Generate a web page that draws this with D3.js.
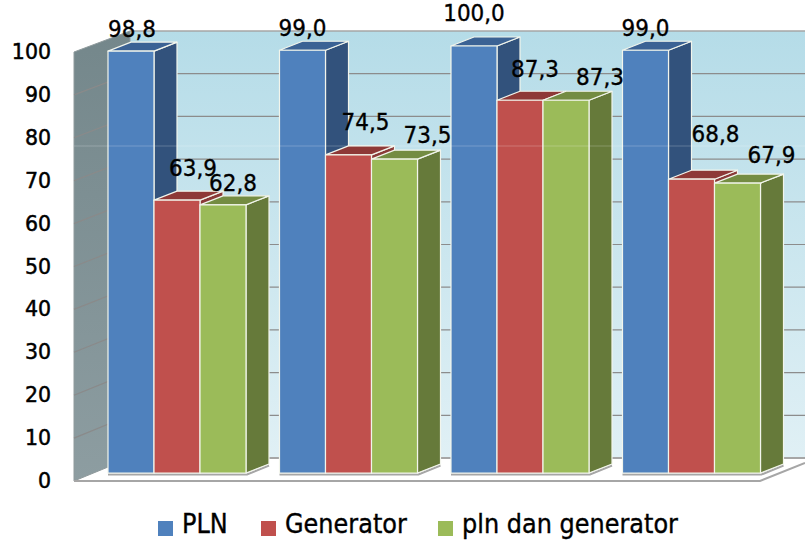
<!DOCTYPE html>
<html>
  <head>
    <meta charset="utf-8" />
    <title>PLN / Generator</title>
    <script src="https://d3js.org/d3.v7.min.js"></script>
    <style>
      html, body { margin: 0; padding: 0; background: #fff; overflow: hidden; }
      svg { display: block; }
      text { font-family: "DejaVu Sans", sans-serif; fill: #000; stroke: #000; stroke-width: 0.35; }
    </style>
  </head>
  <body>
    <div id="chart-container"></div>
    <script>
      const groups = ["A", "B", "C", "D"];
      const seriesNames = ["PLN", "Generator", "pln dan generator"];
      const plnValues = [98.8, 99.0, 100.0, 99.0];
      const generatorValues = [63.9, 74.5, 87.3, 68.8];
      const bothValues = [62.8, 73.5, 87.3, 67.9];
      const yTicks = [0, 10, 20, 30, 40, 50, 60, 70, 80, 90, 100];

      const width = 805;
      const height = 540;

      //colors per series: front, side, top
      const faceColors = ["#4f81bd", "#c0504d", "#9bbb59"];
      const sideColors = ["#32527c", "#8a3a38", "#667a3a"];
      const topColors = ["#3b6294", "#8e3937", "#748c42"];

      //label nudges, same order as the series: [dx, dy from bar top]
      const labelNudge = [
        [[1, -14], [16, -24], [10, -14]],
        [[0, -14], [17, -25], [33, -16]],
        [[0, -25], [15, -23], [34, -15]],
        [[0, -14], [24, -37], [34, -20]],
      ];

      const svg = d3.select("#chart-container").append("svg").attr("width", width).attr("height", height);
      const defs = svg.append("defs");

      function vGrad(id, c1, c2) {
        const g = defs.append("linearGradient").attr("id", id).attr("x1", 0).attr("y1", 0).attr("x2", 0).attr("y2", 1);
        g.append("stop").attr("offset", "0%").attr("stop-color", c1);
        g.append("stop").attr("offset", "100%").attr("stop-color", c2);
      }
      vGrad("backGrad", "#b5dce8", "#e0f0f5");
      vGrad("wallGrad", "#74878b", "#8d9da1");

      //three y scales: front edge of the box, the plane of the bars, the back wall
      const yFront = d3.scaleLinear().domain([0, 100]).range([481, 52]);
      const yBar = d3.scaleLinear().domain([0, 100]).range([473, 46]);
      const yBack = d3.scaleLinear().domain([0, 100]).range([458, 31]);

      const x0 = d3.scaleBand().domain(groups).range([74, 760]);
      const x1 = d3.scaleBand().domain(seriesNames).range([0, 138]);

      const barShift = 34; //front edge of box to front of bars
      const wallDx = 56; //front edge of box to back wall
      const depthX = 23; //bar depth
      const depthY = 9;

      const poly = (pts) => pts.map((p) => p.join(",")).join(" ");

      //back wall
      svg.append("rect")
        .attr("x", 130).attr("y", yBack(100))
        .attr("width", width - 130).attr("height", yBack(0) - yBack(100))
        .attr("fill", "url(#backGrad)");
      svg.append("line")
        .attr("x1", 130).attr("x2", width).attr("y1", yBack(100)).attr("y2", yBack(100))
        .attr("stroke", "#a6a6a6").attr("stroke-width", 1.5);

      svg.append("g").selectAll("line").data(yTicks.slice(0, -1)).join("line")
        .attr("x1", 130).attr("x2", width)
        .attr("y1", (d) => yBack(d)).attr("y2", (d) => yBack(d))
        .attr("stroke", (d) => (d === 0 ? "#a6a6a6" : "#8c8c8c"))
        .attr("stroke-width", (d) => (d === 0 ? 2 : 1.2));

      //left wall
      svg.append("polygon")
        .attr("points", poly([[74, yFront(100)], [74 + wallDx, yBack(100)], [74 + wallDx, yBack(0)], [74, yFront(0)]]))
        .attr("fill", "url(#wallGrad)")
        .attr("stroke", "#8f9a9c").attr("stroke-width", 1);
      svg.append("g").selectAll("line").data(yTicks.slice(1, -1)).join("line")
        .attr("x1", 74).attr("x2", 74 + wallDx)
        .attr("y1", (d) => yFront(d)).attr("y2", (d) => yBack(d))
        .attr("stroke", "#8a8a8a").attr("stroke-width", 1.2);

      //floor edges
      svg.append("polyline")
        .attr("points", poly([[74, 481], [760, 481], [width, 463]]))
        .attr("fill", "none").attr("stroke", "#a6a6a6").attr("stroke-width", 2);

      const seriesValues = [plnValues, generatorValues, bothValues];

      groups.forEach((g, gi) => {
        const gx = x0(g) + barShift;
        const bw = x1.bandwidth();
        const base = yBar(0);

        //shadow line under the group
        svg.append("polyline")
          .attr("points", poly([[gx, base + 1.5], [gx + 3 * bw + 1, base + 1.5], [gx + 3 * bw + depthX, base - depthY + 1.5]]))
          .attr("fill", "none").attr("stroke", "#a6a6a6").attr("stroke-width", 2);

        seriesNames.forEach((name, si) => {
          const v = seriesValues[si][gi];
          const x = gx + x1(name);
          const top = yBar(v);

          const bar = svg.append("g").attr("stroke", "#f2f5ec").attr("stroke-width", 1.2).attr("stroke-linejoin", "round");
          bar.append("polygon")
            .attr("points", poly([[x + bw, top], [x + bw + depthX, top - depthY], [x + bw + depthX, base - depthY], [x + bw, base]]))
            .attr("fill", sideColors[si]);
          bar.append("polygon")
            .attr("points", poly([[x, top], [x + depthX, top - depthY], [x + bw + depthX, top - depthY], [x + bw, top]]))
            .attr("fill", topColors[si]);
          bar.append("rect")
            .attr("x", x).attr("y", top)
            .attr("width", bw).attr("height", base - top)
            .attr("fill", faceColors[si]);
        });
      });

      //faint band across the picture
      svg.append("line")
        .attr("x1", 74).attr("x2", width).attr("y1", 146).attr("y2", 146)
        .attr("stroke", "#fff").attr("stroke-opacity", 0.22).attr("stroke-width", 1);

      //value labels, decimal comma
      const fmt = (v) => v.toFixed(1).replace(".", ",");
      groups.forEach((g, gi) => {
        seriesNames.forEach((name, si) => {
          const v = seriesValues[si][gi];
          const [dx, dy] = labelNudge[gi][si];
          svg.append("text")
            .attr("transform", `translate(${x0(g) + barShift + x1(name) + x1.bandwidth() / 2 + dx},${yBar(v) + dy}) scale(1,1.08)`)
            .attr("text-anchor", "middle")
            .attr("font-size", "21.5px")
            .text(fmt(v));
        });
      });

      //y axis
      const yAxis = d3.axisLeft(yFront).tickValues(yTicks).tickSize(0).tickPadding(23);
      const axisG = svg.append("g").attr("transform", "translate(74,0)").call(yAxis);
      axisG.select(".domain").remove();
      axisG.selectAll("text")
        .attr("font-size", "20.5px")
        .attr("font-family", '"DejaVu Sans", sans-serif')
        .style("fill", "#000").style("stroke", "#000").style("stroke-width", 0.5);

      //legend, text lifted a little so the descenders stay on the page
      const legendX = [158, 261, 438];
      const legend = svg.append("g").selectAll("g").data(seriesNames).join("g")
        .attr("transform", (d, i) => `translate(${legendX[i]},0)`);
      legend.append("rect")
        .attr("y", 521).attr("width", 15).attr("height", 15)
        .attr("fill", (d, i) => faceColors[i]);
      legend.append("text")
        .attr("transform", "translate(24,533) scale(1,1.1)")
        .attr("font-size", "24px")
        .text((d) => d);
    </script>
  </body>
</html>
